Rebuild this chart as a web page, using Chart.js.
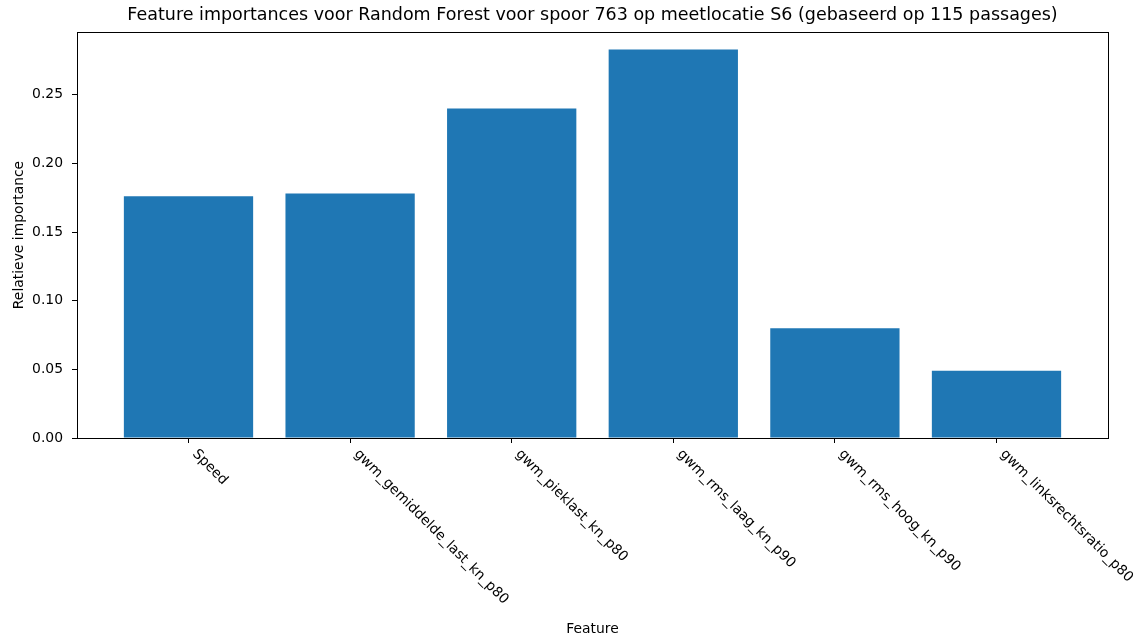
<!DOCTYPE html>
<html>
<head>
<meta charset="utf-8">
<script src="https://cdn.jsdelivr.net/npm/chart.js@4/dist/chart.umd.min.js"></script>
<style>
  html, body { margin: 0; padding: 0; background: #fff; }
  #wrap { width: 1145px; height: 643px; }
</style>
</head>
<body>
<div id="wrap"><canvas id="myChart" width="1145" height="643"></canvas></div>
<script>
// data
const features = [
  'Speed',
  'gwm_gemiddelde_last_kn_p80',
  'gwm_pieklast_kn_p80',
  'gwm_rms_laag_kn_p90',
  'gwm_rms_hoog_kn_p90',
  'gwm_linksrechtsratio_p80',
];
const importances = [0.176, 0.178, 0.240, 0.283, 0.080, 0.049];
const yTicks = [0.00, 0.05, 0.10, 0.15, 0.20, 0.25];

const titleText = 'Feature importances voor Random Forest voor spoor 763 op meetlocatie S6 (gebaseerd op 115 passages)';
const FONT = '"DejaVu Sans", sans-serif';

// frame around the plot + rotated feature names (text runs down to the right)
const framePlugin = {
  id: 'frame_and_labels',
  afterDraw: (chart) => {
    const {ctx, chartArea} = chart;
    const xs = chart.scales.x;
    ctx.save();
    ctx.strokeStyle = '#000';
    ctx.lineWidth = 1;
    ctx.strokeRect(chartArea.left + 0.5, chartArea.top + 0.5,
      chartArea.right - chartArea.left, chartArea.bottom - chartArea.top);

    ctx.font = '13.9px ' + FONT;
    ctx.fillStyle = '#000';
    ctx.textAlign = 'left';
    ctx.textBaseline = 'top';
    features.forEach((name, i) => {
      const px = xs.getPixelForValue(i);
      ctx.save();
      ctx.translate(px + 11, chartArea.bottom + 9);
      ctx.rotate(Math.PI / 4);
      ctx.fillText(name, 0, 0);
      ctx.restore();
    });
    ctx.restore();
  },
};

const ctx = document.getElementById('myChart').getContext('2d');
new Chart(ctx, {
  type: 'bar',
  data: {
    datasets: [{
      data: importances.map((v, i) => ({x: i, y: v})),
      backgroundColor: '#1f77b4',
      borderWidth: 0,
      barPercentage: 0.8,
      categoryPercentage: 1.0,
    }],
  },
  options: {
    responsive: false,
    animation: false,
    layout: {padding: {left: 0, right: 37, top: 0, bottom: 0}},
    plugins: {
      legend: {display: false},
      tooltip: {enabled: false},
      title: {
        display: true,
        text: titleText,
        fullSize: false,
        color: '#000',
        font: {family: FONT, size: 17.5, weight: 'normal'},
        padding: {top: 5, bottom: 6},
      },
    },
    scales: {
      x: {
        type: 'linear',
        min: -0.69,
        max: 5.69,
        offset: false,
        afterBuildTicks: (scale) => {
          scale.ticks = features.map((f, i) => ({value: i}));
        },
        afterFit: (scale) => { scale.height = 205; },
        grid: {offset: false, drawOnChartArea: false, drawTicks: true, tickLength: 5, color: '#000'},
        border: {display: true, color: '#000', width: 1},
        ticks: {display: false},
        title: {
          display: true,
          text: 'Feature',
          color: '#000',
          font: {family: FONT, size: 13.9},
          padding: {top: 0, bottom: 5},
        },
      },
      y: {
        min: 0,
        max: 0.2957,
        afterBuildTicks: (scale) => {
          scale.ticks = yTicks.map((v) => ({value: v}));
        },
        afterFit: (scale) => { scale.width = 77; },
        grid: {drawOnChartArea: false, drawTicks: true, tickLength: 5, color: '#000'},
        border: {display: true, color: '#000', width: 1},
        ticks: {
          color: '#000',
          padding: 9,
          font: {family: FONT, size: 13.9},
          callback: (v) => Number(v).toFixed(2),
        },
        title: {
          display: true,
          text: 'Relatieve importance',
          color: '#000',
          font: {family: FONT, size: 13.9},
          padding: {top: 11, bottom: 0},
        },
      },
    },
  },
  plugins: [framePlugin],
});
</script>
</body>
</html>
